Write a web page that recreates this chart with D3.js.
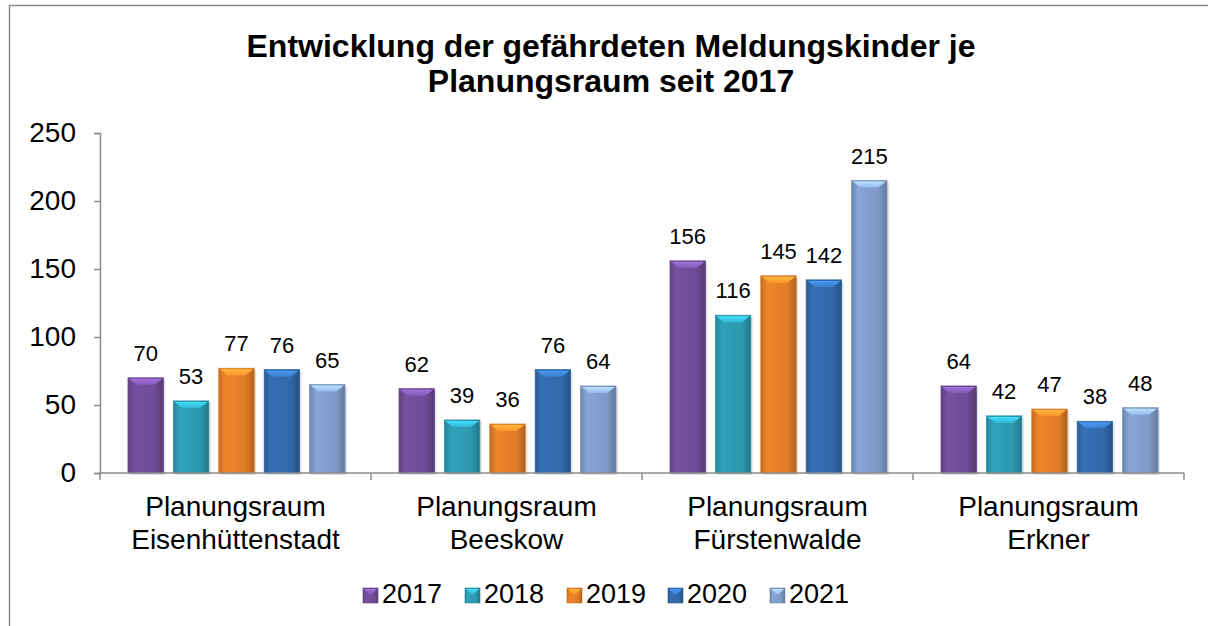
<!DOCTYPE html>
<html>
<head>
<meta charset="utf-8">
<script src="https://cdn.jsdelivr.net/npm/d3@7"></script>
<style>
  body { margin: 0; background: #fff; }
  svg text { font-family: Arial, "Liberation Sans", sans-serif; fill: #000; }
</style>
</head>
<body>
<div id="container"></div>
<script>
// chart data
const regions = [["Planungsraum", "Eisenhüttenstadt"], ["Planungsraum", "Beeskow"], ["Planungsraum", "Fürstenwalde"], ["Planungsraum", "Erkner"]];
const years = ["2017", "2018", "2019", "2020", "2021"];
const v2017 = [70, 62, 156, 64];
const v2018 = [53, 39, 116, 42];
const v2019 = [77, 36, 145, 47];
const v2020 = [76, 76, 142, 38];
const v2021 = [65, 64, 215, 48];
const yTicks = [0, 50, 100, 150, 200, 250];

const series = [v2017, v2018, v2019, v2020, v2021];
const colors = ["#7651a0", "#2fa3bb", "#f0862a", "#3570b5", "#87a5d6"];

const width = 1208, height = 626;
const margin = {left: 100, right: 24, top: 133, bottom: 153};
const innerW = width - margin.left - margin.right;
const innerH = height - margin.top - margin.bottom;

const svg = d3.select('#container').append('svg')
  .attr('width', width).attr('height', height);

// outer frame
svg.append('path')
  .attr('d', `M9.5,${height} V5.5 H${width}`)
  .attr('fill', 'none').attr('stroke', '#8c8c8c').attr('stroke-width', 1.5);

// gradients
const defs = svg.append('defs');
colors.forEach((c, i) => {
  const g = defs.append('linearGradient').attr('id', 'grad' + i)
    .attr('x1', 0).attr('x2', 1).attr('y1', 0).attr('y2', 0);
  const base = d3.color(c);
  g.append('stop').attr('offset', '0%').attr('stop-color', base.darker(0.6));
  g.append('stop').attr('offset', '18%').attr('stop-color', base);
  g.append('stop').attr('offset', '75%').attr('stop-color', base.darker(0.2));
  g.append('stop').attr('offset', '100%').attr('stop-color', base.darker(0.9));
  const v = defs.append('linearGradient').attr('id', 'vgrad' + i)
    .attr('x1', 0).attr('x2', 0).attr('y1', 0).attr('y2', 1);
  v.append('stop').attr('offset', '0%').attr('stop-color', base.brighter(0.9));
  v.append('stop').attr('offset', '100%').attr('stop-color', base.brighter(0.3));
});

// title
const title = svg.append('text')
  .attr('text-anchor', 'middle')
  .attr('font-size', 32).attr('font-weight', 'bold');
title.append('tspan').attr('x', 611).attr('y', 57).text('Entwicklung der gefährdeten Meldungskinder je');
title.append('tspan').attr('x', 611).attr('y', 92).text('Planungsraum seit 2017');

const g = svg.append('g').attr('transform', `translate(${margin.left},${margin.top})`);

const x0 = d3.scaleBand().domain(d3.range(regions.length)).range([0, innerW]).paddingInner(0).paddingOuter(0);
const x1 = d3.scaleBand().domain(years).range([28, x0.bandwidth() - 26]).paddingInner(0.22).paddingOuter(0);
const y = d3.scaleLinear().domain([0, 250]).range([innerH, 0]);

// y axis
const yAxis = g.append('g').call(d3.axisLeft(y).tickValues(yTicks).tickSize(6).tickPadding(18));
yAxis.select('.domain').attr('stroke', '#8c8c8c').attr('stroke-width', 1.5);
yAxis.selectAll('.tick line').attr('stroke', '#8c8c8c').attr('stroke-width', 1.5);
yAxis.selectAll('.tick text').attr('font-size', 28).attr('font-family', 'Arial, "Liberation Sans", sans-serif');

// bars
regions.forEach((r, ri) => {
  const grp = g.append('g').attr('transform', `translate(${x0(ri)},0)`);
  years.forEach((yr, si) => {
    const val = series[si][ri];
    const bx = x1(yr), bw = x1.bandwidth();
    const by = y(val), bh = innerH - by;
    // shadow
    grp.append('rect').attr('x', bx + 2).attr('y', by + 2).attr('width', bw).attr('height', bh)
      .attr('fill', '#000').attr('opacity', 0.12);
    grp.append('rect').attr('x', bx).attr('y', by).attr('width', bw).attr('height', bh)
      .attr('fill', `url(#grad${si})`).attr('stroke', d3.color(colors[si]).darker(0.3)).attr('stroke-width', 0.8);
    // top bevel
    const bev = Math.min(7, bh / 2);
    grp.append('path')
      .attr('d', `M${bx + 1},${by + 1} H${bx + bw - 1} L${bx + bw - 9},${by + bev} H${bx + 9} Z`)
      .attr('fill', `url(#vgrad${si})`);
    grp.append('text')
      .attr('x', bx + bw / 2).attr('y', by - 17)
      .attr('text-anchor', 'middle').attr('font-size', 22)
      .text(val);
  });
});

// x axis
const xAxis = g.append('g').attr('transform', `translate(0,${innerH})`);
xAxis.append('line').attr('x1', 0).attr('x2', innerW).attr('y1', 0).attr('y2', 0)
  .attr('stroke', '#8c8c8c').attr('stroke-width', 1.5);
d3.range(regions.length + 1).forEach(i => {
  const xx = i < regions.length ? x0(i) : innerW;
  xAxis.append('line').attr('x1', xx).attr('x2', xx).attr('y1', 0).attr('y2', 7)
    .attr('stroke', '#8c8c8c').attr('stroke-width', 1.5);
});
regions.forEach((r, ri) => {
  const t = xAxis.append('text').attr('text-anchor', 'middle').attr('font-size', 28);
  r.forEach((line, li) => {
    t.append('tspan').attr('x', x0(ri) + x0.bandwidth() / 2).attr('y', 43 + li * 33).text(line);
  });
});

// legend
const legendX = [363, 465, 567, 668, 770];
const legend = svg.append('g').attr('transform', 'translate(0,596)');
years.forEach((yr, i) => {
  const lg = legend.append('g').attr('transform', `translate(${legendX[i]},0)`);
  lg.append('rect').attr('x', 0).attr('y', -8).attr('width', 15).attr('height', 15)
    .attr('fill', `url(#grad${i})`).attr('stroke', d3.color(colors[i]).darker(0.5)).attr('stroke-width', 0.6);
  lg.append('path').attr('d', 'M1,-7 H14 L7.5,-1 Z').attr('fill', `url(#vgrad${i})`);
  lg.append('text').attr('x', 19).attr('y', 7).attr('font-size', 27).text(yr);
});
</script>
</body>
</html>
